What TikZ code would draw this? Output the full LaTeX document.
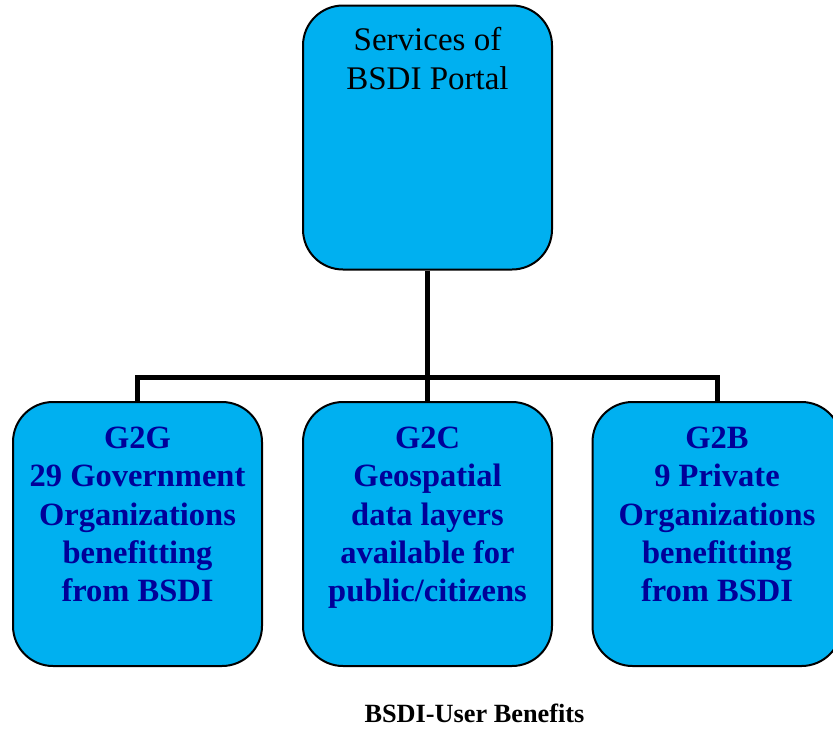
\documentclass[tikz,border=0pt]{standalone}
\usepackage{fontspec}
\setmainfont{Liberation Serif}
\usetikzlibrary{backgrounds}
\definecolor{boxfill}{RGB}{0,176,240}
\definecolor{txtblue}{RGB}{0,0,153}
\begin{document}
\begin{tikzpicture}[x=1pt,y=-1pt,
  box/.style={draw=black,line width=2pt,fill=boxfill,rounded corners=40pt,
    minimum width=249pt,minimum height=264pt,inner sep=0pt},
  conn/.style={draw=black,line width=5pt},
  toptxt/.style={anchor=north,align=center,inner sep=0pt,
    font=\fontsize{33}{39}\selectfont,text=black},
  bottxt/.style={anchor=north,align=center,inner sep=0pt,
    font=\fontsize{32.5}{38.2}\selectfont\bfseries,text=txtblue},
  captxt/.style={anchor=base,inner sep=0pt,font=\fontsize{26.3}{30}\selectfont\bfseries}]
\useasboundingbox (0,0) rectangle (833,729);
\clip (0,0) rectangle (833,729);
\node[box] (top) at (427.5,137.5) {};
\node[box] (g2g) at (137.5,534) {};
\node[box] (g2c) at (427.5,534) {};
\node[box] (g2b) at (717,534) {};
\coordinate (j) at (427.5,377);
\begin{scope}[on background layer]
\fill[white] (0,0) rectangle (833,729);
\draw[conn] (top.south) -- (j);
\draw[conn] (g2g.north) |- (j) -| (g2b.north);
\draw[conn] (j) -- (g2c.north);
\end{scope}
\node[toptxt] (t0) at (427.5,27) {Services of\\BSDI Portal};
\node[bottxt] (t1) at (137.5,427) {G2G\\29 Government\\Organizations\\benefitting\\from BSDI};
\node[bottxt] (t2) at (427.5,427) {G2C\\Geospatial\\data layers\\available for\\public/citizens};
\node[bottxt] (t3) at (717,427) {G2B\\9 Private\\Organizations\\benefitting\\from BSDI};
\node[captxt] (cap) at (474.5,722) {BSDI-User Benefits};
\end{tikzpicture}
\end{document}
